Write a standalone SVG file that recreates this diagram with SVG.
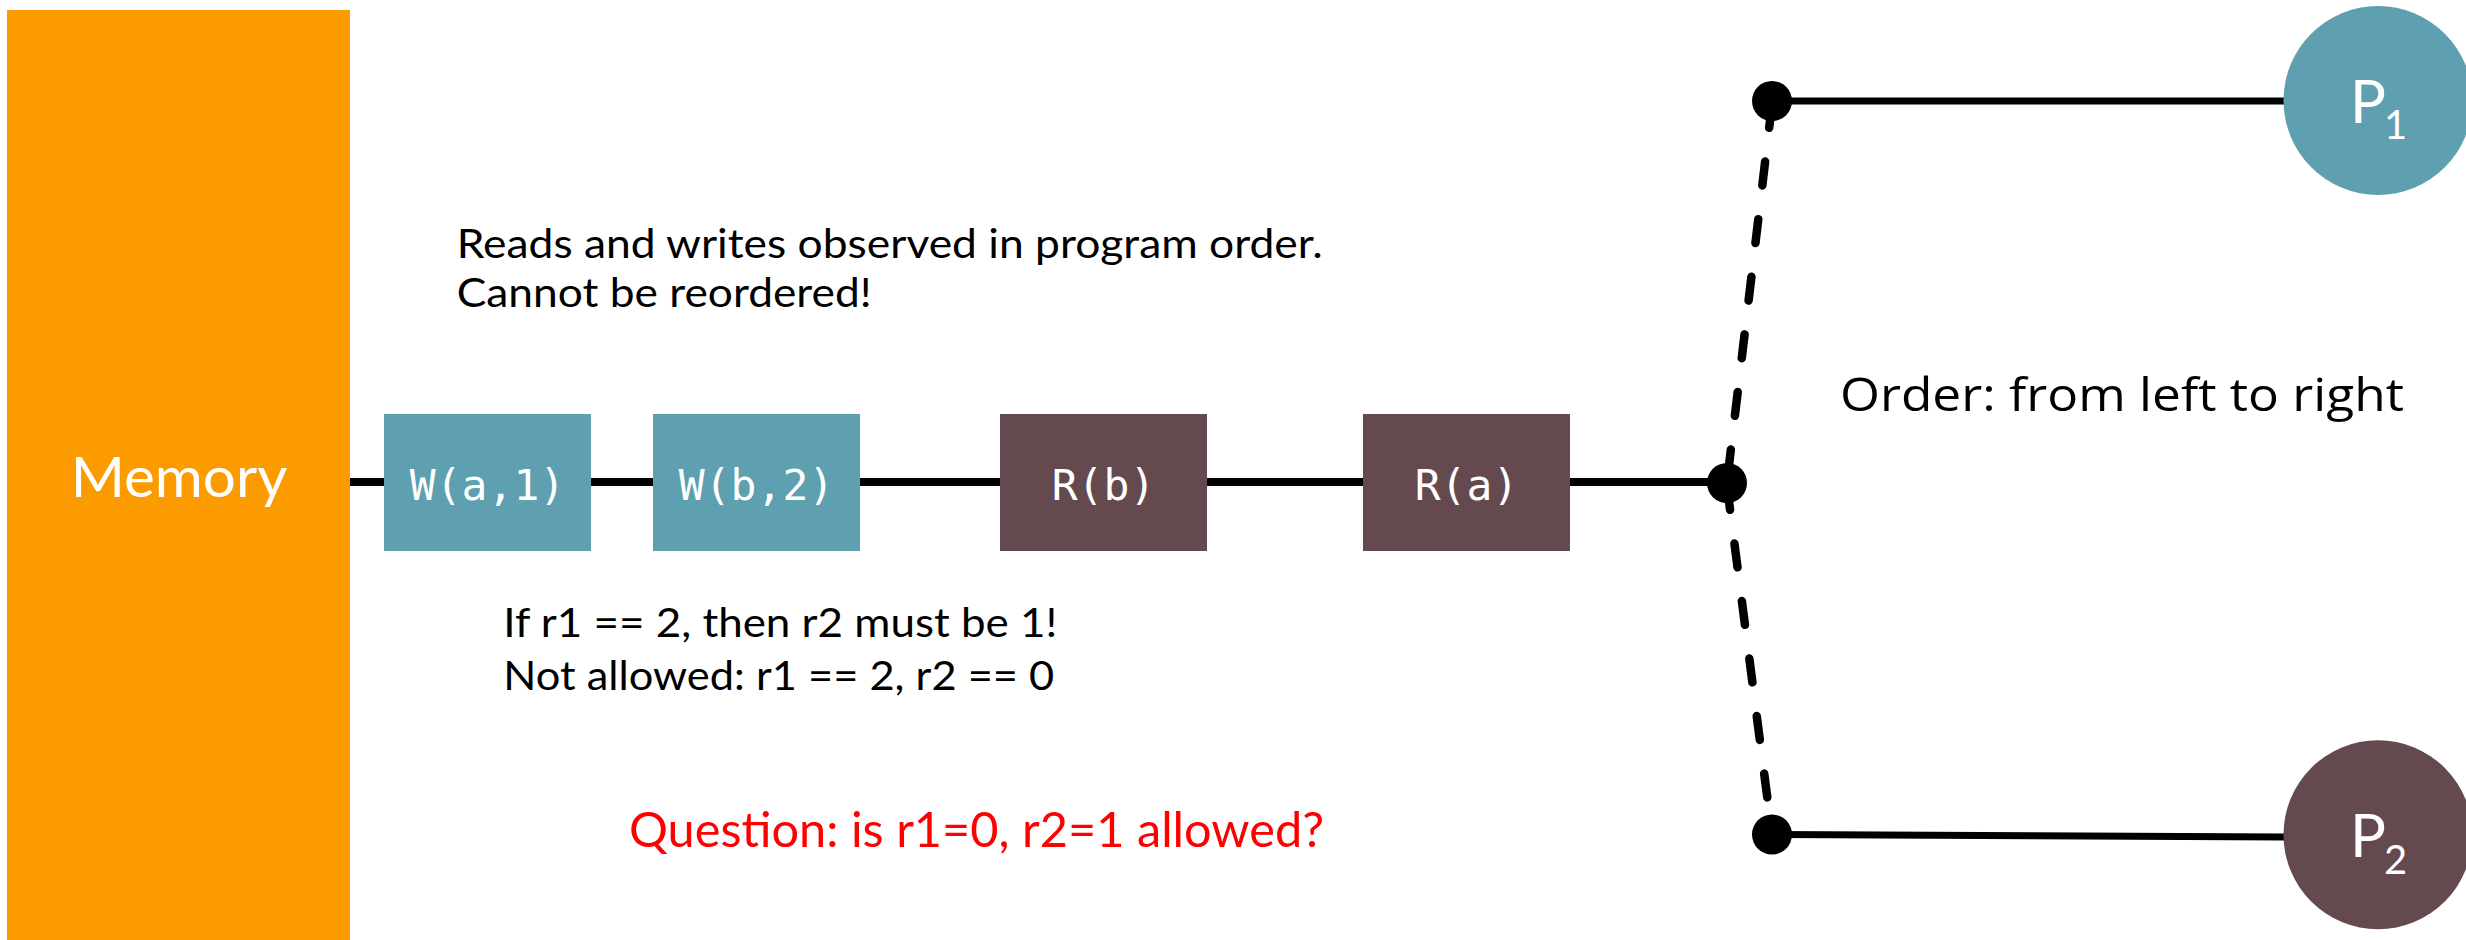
<svg xmlns="http://www.w3.org/2000/svg" width="2466" height="940" viewBox="0 0 2466 940">
  <style>
    .cal { font-family: Lato, "Open Sans", "Liberation Sans", sans-serif; }
    .seg { font-family: "Open Sans", "Noto Sans", "Liberation Sans", sans-serif; }
    .mono { font-family: "DejaVu Sans Mono", "Liberation Mono", monospace; font-size: 43px; fill: #ffffff; text-anchor: middle; }
    .wbox { fill: #5E9FB0; }
    .rbox { fill: #644A4F; }
    .wire { stroke: #000000; stroke-width: 8; fill: none; }
    .branch { stroke: #000000; stroke-width: 7; fill: none; }
    .dash { stroke: #000000; stroke-width: 8.5; fill: none; stroke-dasharray: 24 34; stroke-linecap: round; }
    .dot { fill: #000000; }
    .note { font-size: 40px; fill: #000000; }
    .plabel { fill: #ffffff; font-size: 60px; }
    .psub { fill: #ffffff; font-size: 40px; }
  </style>

  <g id="connectors">
    <line class="wire" x1="349" y1="482" x2="384" y2="482"/>
    <line class="wire" x1="591" y1="482" x2="653" y2="482"/>
    <line class="wire" x1="860" y1="482" x2="1000" y2="482"/>
    <line class="wire" x1="1207" y1="482" x2="1363" y2="482"/>
    <line class="wire" x1="1570" y1="482" x2="1727" y2="482"/>
    <line class="branch" x1="1772" y1="101" x2="2284" y2="101"/>
    <line class="branch" x1="1772" y1="834.5" x2="2284" y2="837"/>
    <path class="dash" d="M1772,104 L1727,482"/>
    <path class="dash" d="M1727,486 L1772,834"/>
  </g>

  <g id="memory">
    <rect x="7" y="10" width="343" height="930" fill="#FB9B00"/>
    <text class="cal" x="70.7" y="496.7" font-size="57" fill="#ffffff" textLength="216.6" lengthAdjust="spacingAndGlyphs">Memory</text>
  </g>

  <g id="w-a-1">
    <rect class="wbox" x="384" y="414" width="207" height="137"/>
    <text class="mono" x="487.5" y="499.5">W(a,1)</text>
  </g>
  <g id="w-b-2">
    <rect class="wbox" x="653" y="414" width="207" height="137"/>
    <text class="mono" x="756.5" y="499.5">W(b,2)</text>
  </g>
  <g id="r-b">
    <rect class="rbox" x="1000" y="414" width="207" height="137"/>
    <text class="mono" x="1103.5" y="499.5">R(b)</text>
  </g>
  <g id="r-a">
    <rect class="rbox" x="1363" y="414" width="207" height="137"/>
    <text class="mono" x="1466.5" y="499.5">R(a)</text>
  </g>

  <g id="junction-top"><circle class="dot" cx="1772" cy="101" r="20"/></g>
  <g id="junction-mid"><circle class="dot" cx="1727" cy="483" r="20"/></g>
  <g id="junction-bottom"><circle class="dot" cx="1772" cy="834.5" r="20"/></g>

  <g id="p1">
    <circle cx="2378" cy="100.5" r="94.5" fill="#5E9FB0"/>
    <text class="cal plabel" x="2350" y="122.7">P</text>
    <text class="cal psub" x="2384" y="139.3">1</text>
  </g>
  <g id="p2">
    <circle cx="2378" cy="834.7" r="94.5" fill="#644A4F"/>
    <text class="cal plabel" x="2350" y="857">P</text>
    <text class="cal psub" x="2384" y="873.5">2</text>
  </g>

  <g id="labels">
    <text class="cal note" x="456.7" y="258.3" textLength="866" lengthAdjust="spacingAndGlyphs">Reads and writes observed in program order.</text>
    <text class="cal note" x="456.7" y="307.3" textLength="415" lengthAdjust="spacingAndGlyphs">Cannot be reordered!</text>
    <text class="cal note" x="503.3" y="636.7" textLength="554" lengthAdjust="spacingAndGlyphs">If r1 == 2, then r2 must be 1!</text>
    <text class="cal note" x="503.3" y="690" textLength="551" lengthAdjust="spacingAndGlyphs">Not allowed: r1 == 2, r2 == 0</text>
    <text class="cal" x="629" y="847.3" font-size="49" fill="#FF0000" textLength="695" lengthAdjust="spacingAndGlyphs">Question: is r1=0, r2=1 allowed?</text>
    <text class="seg" x="1840" y="411" font-size="45" fill="#000000" textLength="564" lengthAdjust="spacingAndGlyphs">Order: from left to right</text>
  </g>
</svg>
